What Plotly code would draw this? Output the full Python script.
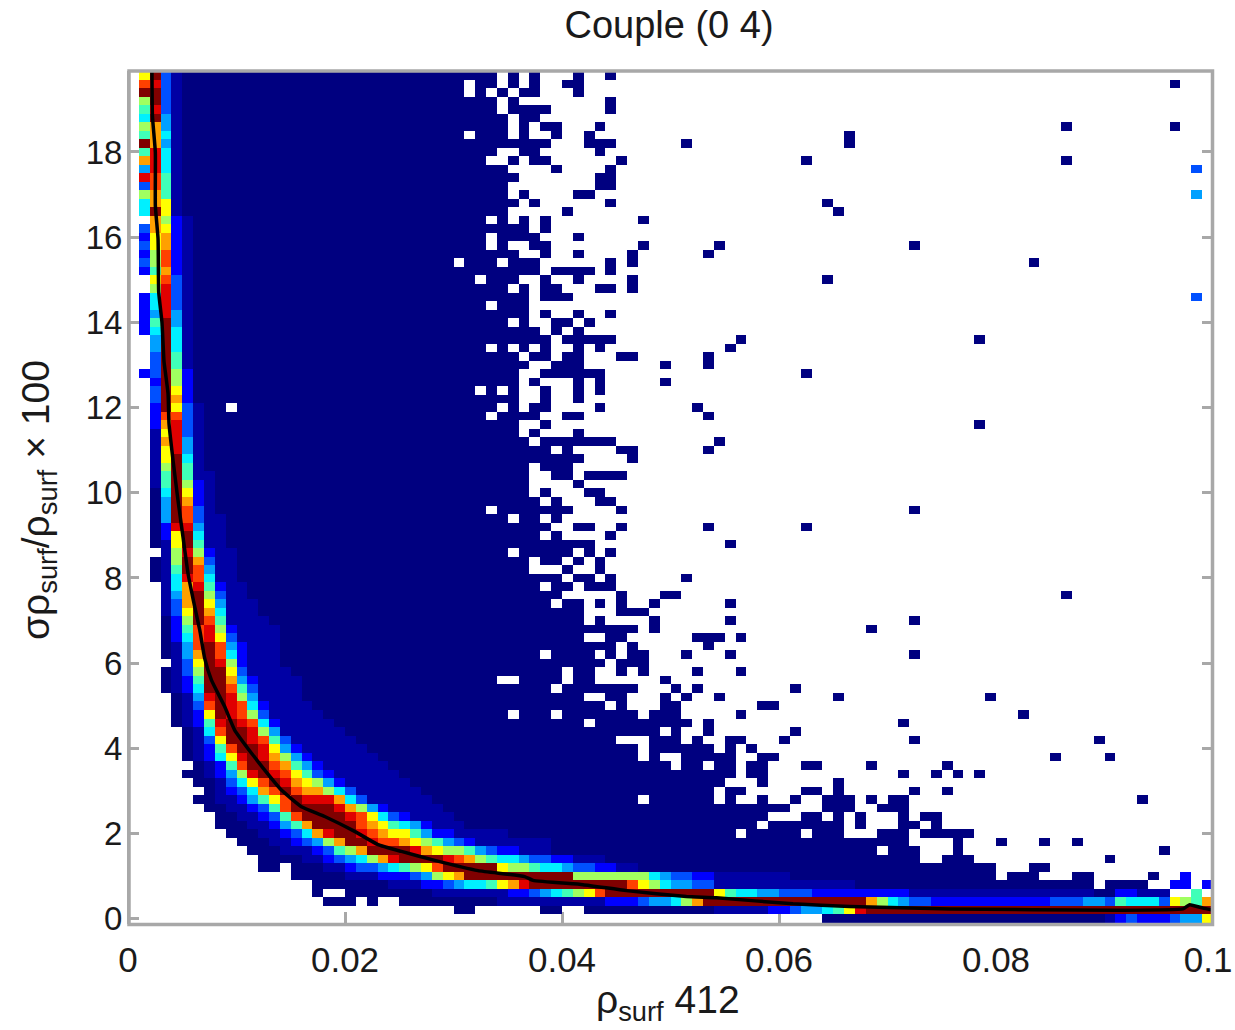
import plotly.graph_objects as go

# one entry per histogram row (row r is centred on y = 0.2 * r), per 0.001-wide column k
LEVELS = "0123456789abc"
level_colors = ["#000080", "#0000a4", "#0000ff", "#0050ff", "#00a0ff", "#00f0ff", "#40ffb8",
                "#a0ff60", "#ffff00", "#ffa000", "#ff4000", "#e00000", "#800000"]

navy_cols = [
    "64-89", "30-31,38-39,42-53", "18-20,22,25-33", "17,20-27", "17-23,67-88,90-93",
    "15-19,61-79,81-83,87-88,94", "12-13,15-17,47-79,83-84", "12-15,44-72,75-77,90",
    "11-13,39-68,70-72,76,95", "10-12,39-71,76,80,84,87",
    "9-11,35-55,57-61,63-65,69-71,73-77", "8-10,31-57,59-65,67,71-72,74",
    "8-9,30-58,62-63,65,67,71,73-74", "7-8,29-60,64-66,69-71",
    "6-7,28-46,48-53,55,58,61,64-66,68,70-71,93", "7,27-53,55-56,62-63,65,72,75",
    "6-7,26-54,58,65", "5-6,25-55,57-58,71,74,76,78",
    "6,24-49,51-52,54-55,57-58,62-63,68,75", "5,23-46,48,51-55,58-59,85,90",
    "5,22-46,48-53,55,57", "5,21-44,48-50,52,55-56,60,72,89", "5,20-48,50,53,61",
    "4,19-41,43-51,53,71", "4,18-34,36-38,40-46,48-50,56,82", "4,17-43,45,49-50,58-59",
    "4,16-41,44-45,49,51,54,65,79", "3,16-38,40-46,50,52,61", "3,16-33,36-39,41-42,49",
    "3,15-39,41-42,45,47,52,56", "14-43,45-47", "3,14-37,39-42,44,46-47,51,55,72",
    "3,14-44,46,53", "3,14-41,44-45,52-54,56", "3,14-46,48,68", "3,13-41,43,48,55,72",
    "12-41,45-47", "12-38,40-41,43,45,48,55", "11-39,45,49-50,86", "11-37,39-40,42-44",
    "2,10-39,41-42,44,51", "2,10-36,40,43", "2,10-36,38-39,41,43", "10-34,36-40,42,44",
    "2,9-42,55", "2,9-37,39,44", "2,9-38,41-42,45,53,62", "2,9-34,36-37,39",
    "2,8-32,34-40,45,72", "2,8-37,39,43-44", "2,8-36,38,42-43", "8-36,41",
    "8-36,39-40,42-45", "7-36,38-40", "7-41,46", "7-38,40,45-46,53", "7-36,38-44,54",
    "7-35,37,41", "7-35,38,78", "7-32,34-37,40-41,53", "7-8,10-33,35,37-38,43,52",
    "6-35,38,41", "6-31,33,35,38,41,43", "6-35,37,41,43,49", "6-35,38-43,62",
    "6-36,39-41,49,53", "6-35,37-38,40-41,45-46,53", "6-32,34,36,38,41,43,55",
    "6-38,40-44,56,78", "6-37,39,41", "6-34,36,39-40,42", "6-36,38,41,44", "6-32,34-36",
    "6-36,38-40", "6-34,36,38-39,43-44,46", "6-31,33-35,38,41,46,64", "6-37,39-42,44",
    "6-29,31-33,35-37,44,46,83", "6-35,38,41,46,53", "6-32,34,37-38,47,54,72",
    "6-32,34-37,41", "6-36,38", "6-32,34,36,38,47", "5-34,40,65", "5-35,37,44,64",
    "5-34,36,41-42", "5-34,43-44", "5-35,43-44", "5-34,39,44", "5-32,35,37-38,45,62,86",
    "5-33,36-37,43", "5-38,42-44,51,66", "5-30,32-34,36,39,42,66",
    "5-34,36,38-39,43,86,96", "5-34,36-37", "5-33,35-38,44", "5-33,35,44",
    "5-30,32,34,36-37,41", "5-30,32-33,35,37,40-41,96", "5-33,35,37,41,44",
]

band_start = [
    90, 54, 34, 28, 24, 20, 18, 16, 14, 13,
    12, 11, 10, 9, 8, 8, 8, 7, 7, 6,
    6, 6, 6, 5, 5, 5, 5, 4, 4, 4,
    4, 4, 4, 4, 4, 4, 3, 3, 3, 3,
    3, 3, 3, 3, 3, 3, 3, 3, 3, 3,
    3, 2, 2, 2, 2, 2, 2, 2, 2, 2,
    2, 2, 2, 2, 1, 2, 2, 2, 2, 1,
    1, 1, 1, 1, 2, 2, 1, 1, 1, 1,
    1, 1, 2, 1, 1, 1, 1, 1, 1, 1,
    1, 1, 1, 1, 1, 1, 1, 1, 1, 1,
]

band_levels = [
    "1232223448",
    "11111" "22" "3" "44" "5" "6" "8" "b" + "c" * 32,
    "1" * 10 + "222" "3" "44" "5" "7" "9" + "c" * 15 + "9754" "33" + "2" * 11 + "333" "44" "3" "6" "555" "3" "8769",
    "1111111" "22" "345678a" + "c" * 10 + "86" "55" "44" "333" + "2" * 9 + "1" * 17 + "00" "22" "111" "  " "6",
    "111" "22" "34" "55" "689b" + "c" * 9 + "a875" "44" "33" + "1" * 13,
    "111" "222" "34789" + "c" * 10 + "7" * 7 + "54" "33" "22" + "1" * 7,
    "11" "2" "33" "45678a" "ccccc" "8" "77" "6" "55" "4" "33" "22" "11",
    "11234579bccccba97655433" "22111",
    "11123679ccccb9877643" "22111",
    "1123479ccbaa9876432" "1111111",
    "112359bccba9886422" "11111",
    "112469cccca986542111",
    "11236accccba85321111",
    "11236accccb9742" "11111",
    "112468acbbb953" "111111",
    "12359aca99753" "111111",
    "1358acb98742" "111111",
    "1247bcba8632" "111111",
    "126acca9642" "111111",
    "1258bcb9742" "111111",
    "126accb842" "111111",
    "138ccba63" "111111",
    "15accb74" "111111",
    "126bcba52" "11111",
    "128cba73" "11111",
    "13acba52" "1111",
    "14bcb74" "1111",
    "125cca63" "1111",
    "126cc942" "1111",
    "137cc83" "1111",
    "138cb72" "111",
    "149ca52" "111",
    "14aca42" "111",
    "25ab83" "1111",
    "26ab72" "1111",
    "27ca61" "111",
    "138c95" "111",
    "139c84" "111",
    "149c73" "11",
    "159b62" "11",
    "15ba51" "1",
    "16ca41" "1",
    "17c931" "1",
    "17b72" "11",
    "18c611",
    "28c511",
    "2bb411",
    "4ca311",
    "4ca31",
    "4c921",
    "5c821",
    "16c721",
    "16c611",
    "17c61",
    "18c51",
    "18b41",
    "19b41",
    "18b31",
    "29b31",
    "2aa31",
    "2c831",
    "3c92",
    "3c82",
    "2c72",
    "23c72",
    "3c61",
    "3c61",
    "4c51",
    "4c51",
    "25c51",
    "26c41",
    "24b41",
    "25b31",
    "25b31",
    "7b31",
    "8a31",
    "26921",
    "37a21",
    "27a21",
    "38921",
    "28921",
    "39821",
    "9721",
    "5c81",
    "5981",
    "7961",
    "3a61",
    "ba61",
    "4b51",
    "9b51",
    "6b51",
    "c941",
    "6951",
    "7941",
    "5c41",
    "6b31",
    "7c31",
    "cc31",
    "ab31",
    "8c31",
]

# isolated coloured cells: row, column, level
extra_rows = [4, 4, 4, 5, 73, 85, 88]
extra_cols = [96, 97, 99, 97, 98, 98, 98]
extra_levels = ["2", "2", "2", "2", "3", "4", "3"]

# black ridge line
ridge_x = [.00221, .00225, .00252, .00252, .00277, .00283, .00313, .00332, .00338, .00369, .00378,
           .00415, .00461, .00507, .00553, .00602, .00661, .00707, .00769, .00891, .00983, .01137,
           .0126, .01414, .01598, .01813, .02089, .02304, .0252, .02827, .03226, .03656, .03733,
           .04194, .04594, .05147, .05423, .06129, .06652, .07573, .0911, .09724, .09785, .09908, .09985]
ridge_y = [19.89, 18.85, 17.99, 16.74, 15.96, 14.71, 14.0, 13.07, 12.95, 12.33, 11.62,
           10.76, 9.82, 8.96, 8.11, 7.48, 6.78, 6.11, 5.60, 4.98, 4.43, 3.89,
           3.49, 3.02, 2.63, 2.40, 2.05, 1.74, 1.58, 1.37, 1.13, .99, .90,
           .80, .66, .52, .49, .35, .29, .23, .20, .23, .33, .25, .21]

x_ticks = [0, 0.02, 0.04, 0.06, 0.08, 0.1]
x_labels = ["0", "0.02", "0.04", "0.06", "0.08", "0.1\u00a0"]
y_ticks = [0, 2, 4, 6, 8, 10, 12, 14, 16, 18]

n_cols = n_rows = 100
z = [[None] * n_cols for _ in range(n_rows)]
for r, spec in enumerate(navy_cols):
    for part in spec.split(","):
        a, _, b = part.partition("-")
        for k in range(int(a), int(b or a) + 1):
            z[r][k] = 0
for r, (start, levels) in enumerate(zip(band_start, band_levels)):
    for i, ch in enumerate(levels):
        if start + i < n_cols:
            z[r][start + i] = None if ch == " " else LEVELS.index(ch)
for r, k, ch in zip(extra_rows, extra_cols, extra_levels):
    z[r][k] = LEVELS.index(ch)

colorscale = [[i / 12, c] for i, c in enumerate(level_colors)]
GREY = "#a8a8a8"
TEXT = "#1a1a1a"

fig = go.Figure()
fig.add_trace(go.Heatmap(
    z=z,
    x=[0.0005 + 0.001 * k for k in range(n_cols)],
    y=[0.2 * r for r in range(n_rows)],
    colorscale=colorscale, zmin=0, zmax=12, showscale=False, hoverongaps=False,
))
fig.add_trace(go.Scatter(x=ridge_x, y=ridge_y, mode="lines", showlegend=False,
                         line=dict(color="black", width=3.5, shape="spline", smoothing=0.4)))

L, R, T, B = 128, 22, 71, 107
W, H = 1235, 1030
pw, ph = W - L - R, H - T - B

fig.update_layout(
    width=W, height=H, margin=dict(l=L, r=R, t=T, b=B, pad=0, autoexpand=False),
    paper_bgcolor="white", plot_bgcolor="white", showlegend=False,
    font=dict(family="Liberation Sans, Arial, sans-serif", color=TEXT),
    title=dict(text="Couple (0 4)", x=669 / W, y=1 - 25 / H, xanchor="center", yanchor="middle",
               font=dict(size=38, color=TEXT)),
    xaxis=dict(range=[0, 0.1], tickvals=x_ticks, ticktext=x_labels, ticks="inside", ticklen=11,
               tickwidth=2.5, tickcolor=GREY, showline=True, linecolor=GREY, linewidth=1, mirror=False,
               showgrid=False, zeroline=False, layer="below traces", ticklabelstandoff=6,
               automargin=False, ticklabeloverflow="allow", tickfont=dict(size=35, color=TEXT)),
    yaxis=dict(range=[-0.1, 19.9], tickvals=y_ticks, ticks="inside", ticklen=11,
               tickwidth=2.5, tickcolor=GREY, showline=True, linecolor=GREY, linewidth=1, mirror="allticks",
               showgrid=False, zeroline=False, layer="below traces", ticklabelstandoff=-2,
               automargin=False, tickfont=dict(size=33, color=TEXT)),
    shapes=[dict(type="rect", xref="paper", yref="paper", layer="above",
                 x0=(129 - L) / pw, x1=(1212.5 - L) / pw,
                 y0=(H - B - 924.5) / ph, y1=(H - B - 71) / ph,
                 line=dict(color=GREY, width=3.5), fillcolor="rgba(0,0,0,0)")],
    annotations=[
        dict(text="σρ<sub>surf</sub>/ρ<sub>surf</sub> × 100", textangle=-90, showarrow=False,
             xref="paper", yref="paper", x=(38 - L) / pw, y=(H - B - 500) / ph,
             xanchor="center", yanchor="middle", font=dict(size=39, color=TEXT)),
        dict(text="ρ<sub>surf</sub> 412", showarrow=False,
             xref="paper", yref="paper", x=(668 - L) / pw, y=(H - B - 1002) / ph,
             xanchor="center", yanchor="middle", font=dict(size=39, color=TEXT)),
    ],
)

fig.write_html("out.html", post_script="document.body.style.margin='0';",
               config={"displayModeBar": False})
